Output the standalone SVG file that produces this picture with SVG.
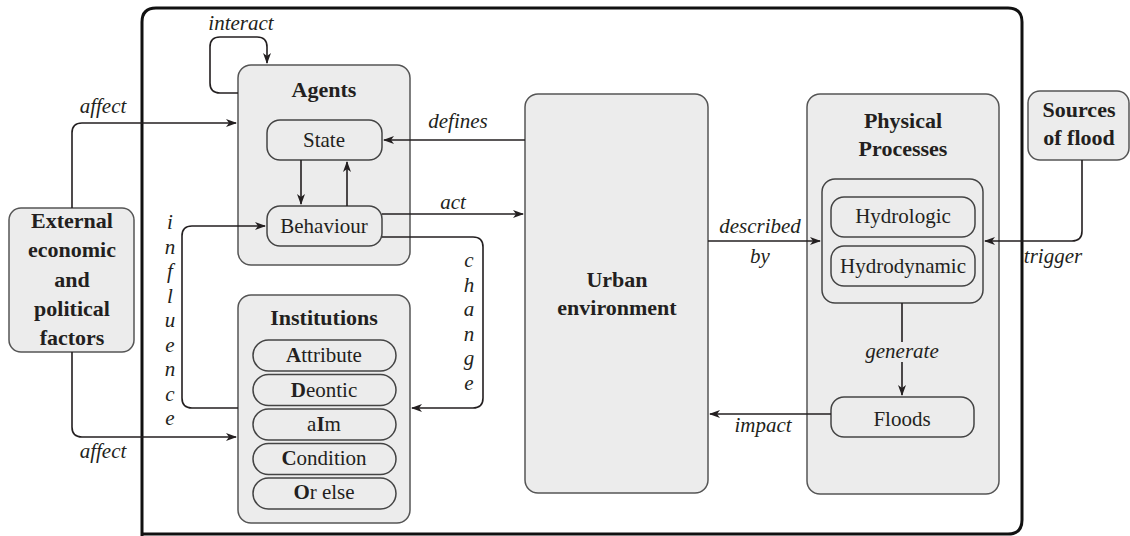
<svg xmlns="http://www.w3.org/2000/svg" width="1130" height="536" viewBox="0 0 1130 536" font-family="Liberation Serif, serif">
<style>
.box{fill:#ececec;stroke:#555;stroke-width:1.5}
.pill{fill:#ececec;stroke:#444;stroke-width:1.5}
text{font-size:21px;fill:#231f20;text-anchor:middle}
.b{font-weight:bold;font-size:22px}
.i{font-style:italic}
.c{fill:none;stroke:#231f20;stroke-width:1.6}
</style>
<defs>
<marker id="ar" markerWidth="12" markerHeight="10" refX="10" refY="4" orient="auto" markerUnits="userSpaceOnUse">
<path d="M0,0 L11,4 L0,8 L3,4 z" fill="#231f20"/>
</marker>
</defs>
<rect width="1130" height="536" fill="#fff"/>
<path d="M142,545 L142,22 Q142,8 156,8 L1008,8 Q1022,8 1022,22 L1022,520 Q1022,534 1008,534 L142,534" fill="none" stroke="#111" stroke-width="3"/>

<g id="external">
<rect class="box" x="9" y="208" width="125" height="144" rx="12"/>
<text class="b" x="72" y="228">External</text>
<text class="b" x="72" y="257">economic</text>
<text class="b" x="72" y="287">and</text>
<text class="b" x="72" y="316">political</text>
<text class="b" x="72" y="345">factors</text>
</g>

<g id="agents">
<rect class="box" x="238" y="65" width="172" height="200" rx="13"/>
<text class="b" x="324" y="97">Agents</text>
<g id="state">
<rect class="pill" x="267" y="120" width="115" height="40" rx="13"/>
<text x="324" y="147">State</text>
</g>
<g id="behaviour">
<rect class="pill" x="267" y="206" width="115" height="40" rx="13"/>
<text x="324" y="233">Behaviour</text>
</g>
</g>

<g id="institutions">
<rect class="box" x="238" y="295" width="172" height="228" rx="13"/>
<text class="b" x="324" y="325">Institutions</text>
<rect class="pill" x="253" y="340" width="143" height="31" rx="15.5"/>
<text x="324" y="362"><tspan font-weight="bold">A</tspan>ttribute</text>
<rect class="pill" x="253" y="374.5" width="143" height="31" rx="15.5"/>
<text x="324" y="397"><tspan font-weight="bold">D</tspan>eontic</text>
<rect class="pill" x="253" y="409" width="143" height="31" rx="15.5"/>
<text x="324" y="431">a<tspan font-weight="bold">I</tspan>m</text>
<rect class="pill" x="253" y="443.5" width="143" height="31" rx="15.5"/>
<text x="324" y="465"><tspan font-weight="bold">C</tspan>ondition</text>
<rect class="pill" x="253" y="478" width="143" height="31" rx="15.5"/>
<text x="324" y="499"><tspan font-weight="bold">O</tspan>r else</text>
</g>

<g id="urban">
<rect class="box" x="525" y="94" width="183" height="399" rx="13"/>
<text class="b" x="617" y="287">Urban</text>
<text class="b" x="617" y="315">environment</text>
</g>

<g id="physical">
<rect class="box" x="807" y="94" width="192" height="400" rx="13"/>
<text class="b" x="903" y="128">Physical</text>
<text class="b" x="903" y="156">Processes</text>
<rect class="pill" x="822" y="179" width="161" height="124" rx="13"/>
<g id="hydrologic">
<rect class="pill" x="831" y="197" width="144" height="40" rx="13"/>
<text x="903" y="223">Hydrologic</text>
</g>
<g id="hydrodynamic">
<rect class="pill" x="831" y="246" width="144" height="40" rx="13"/>
<text x="903" y="273">Hydrodynamic</text>
</g>
<g id="floods">
<rect class="pill" x="831" y="397" width="143" height="40" rx="13"/>
<text x="902" y="426">Floods</text>
</g>
</g>

<g id="sources">
<rect class="box" x="1028" y="91" width="101" height="69" rx="12"/>
<text class="b" x="1079" y="117">Sources</text>
<text class="b" x="1079" y="145">of flood</text>
</g>

<g id="connectors">
<path class="c" d="M72,208 L72,133 Q72,123 82,123 L236,123" marker-end="url(#ar)"/>
<path class="c" d="M72,352 L72,427 Q72,437 82,437 L236,437" marker-end="url(#ar)"/>
<path class="c" d="M238,93 L220,93 Q210,93 210,83 L210,47 Q210,37 220,37 L257,37 Q267,37 267,47 L267,63" marker-end="url(#ar)"/>
<path class="c" d="M301,160 L301,204" marker-end="url(#ar)"/>
<path class="c" d="M347,206 L347,162" marker-end="url(#ar)"/>
<path class="c" d="M525,140 L384,140" marker-end="url(#ar)"/>
<path class="c" d="M382,214 L523,214" marker-end="url(#ar)"/>
<path class="c" d="M382,237 L473,237 Q483,237 483,247 L483,398 Q483,408 473,408 L412,408" marker-end="url(#ar)"/>
<path class="c" d="M238,408 L192,408 Q182,408 182,398 L182,236 Q182,226 192,226 L265,226" marker-end="url(#ar)"/>
<path class="c" d="M708,241 L820,241" marker-end="url(#ar)"/>
<path class="c" d="M1082,160 L1082,231 Q1082,241 1072,241 L985,241" marker-end="url(#ar)"/>
<path class="c" d="M902,303 L902,342"/>
<path class="c" d="M902,362 L902,395" marker-end="url(#ar)"/>
<path class="c" d="M831,414 L710,414" marker-end="url(#ar)"/>

<text class="i" x="241" y="30">interact</text>
<text class="i" x="103" y="113">affect</text>
<text class="i" x="103" y="458">affect</text>
<text class="i" x="458" y="128">defines</text>
<text class="i" x="453" y="209">act</text>
<text class="i" x="760" y="233">described</text>
<text class="i" x="760" y="263">by</text>
<text class="i" x="1053" y="263">trigger</text>
<text class="i" x="902" y="358">generate</text>
<text class="i" x="763" y="432">impact</text>
<text class="i" x="170" y="229">i</text>
<text class="i" x="170" y="253.5">n</text>
<text class="i" x="170" y="278">f</text>
<text class="i" x="170" y="302.5">l</text>
<text class="i" x="170" y="327">u</text>
<text class="i" x="170" y="351.5">e</text>
<text class="i" x="170" y="376">n</text>
<text class="i" x="170" y="400.5">c</text>
<text class="i" x="170" y="425">e</text>
<text class="i" x="469" y="267">c</text>
<text class="i" x="469" y="291.6">h</text>
<text class="i" x="469" y="316.2">a</text>
<text class="i" x="469" y="340.8">n</text>
<text class="i" x="469" y="365.4">g</text>
<text class="i" x="469" y="390">e</text>
</g>
</svg>
